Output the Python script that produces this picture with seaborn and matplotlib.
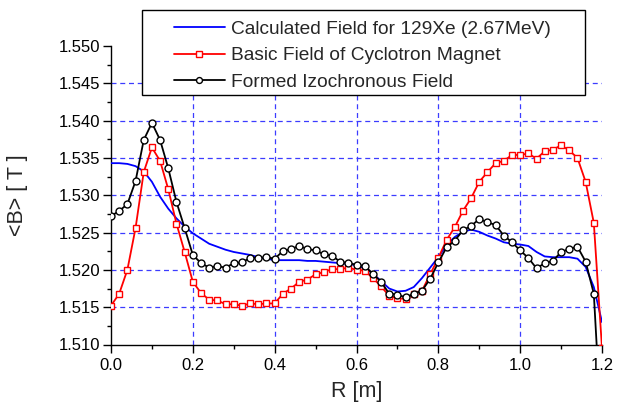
import numpy as np
import pandas as pd
import matplotlib
matplotlib.use("Agg")
import matplotlib.pyplot as plt
from matplotlib.patches import Rectangle
import seaborn as sns
from matplotlib.ticker import MultipleLocator, FormatStrFormatter

# Radius grid (m), 0.02 m step
radius = [round(0.02 * i, 2) for i in range(61)]

# Calculated isochronous field for 129Xe (2.67 MeV)
calculated = [
    1.5343, 1.5343, 1.5342, 1.5339, 1.5332, 1.5318, 1.5298, 1.5282, 1.5269, 1.5258,
    1.5249, 1.5242, 1.5235, 1.5231, 1.5227, 1.5224, 1.5222, 1.5220, 1.5217, 1.5215,
    1.5213, 1.5213, 1.5213, 1.5213, 1.5212, 1.5212, 1.5211, 1.5210, 1.5209, 1.5208,
    1.5206, 1.5202, 1.5195, 1.5185, 1.5175, 1.5171, 1.5172, 1.5177, 1.5189, 1.5203,
    1.5217, 1.5233, 1.5244, 1.5251, 1.5254, 1.5251, 1.5246, 1.5242, 1.5237, 1.5235,
    1.5234, 1.5232, 1.5224, 1.5218, 1.5217, 1.5217, 1.5217, 1.5215, 1.5204, 1.5177,
    1.5130,
]

# Basic field of the cyclotron magnet
basic = [
    1.5152, 1.5168, 1.5200, 1.5256, 1.5331, 1.5364, 1.5346, 1.5308, 1.5262, 1.5224,
    1.5184, 1.5169, 1.5160, 1.5159, 1.5154, 1.5154, 1.5152, 1.5155, 1.5154, 1.5155,
    1.5155, 1.5168, 1.5175, 1.5184, 1.5187, 1.5194, 1.5197, 1.5201, 1.5201, 1.5203,
    1.5200, 1.5199, 1.5189, 1.5178, 1.5165, 1.5162, 1.5161, 1.5168, 1.5172, 1.5194,
    1.5216, 1.5240, 1.5257, 1.5279, 1.5296, 1.5318, 1.5331, 1.5343, 1.5346, 1.5354,
    1.5354, 1.5356, 1.5349, 1.5359, 1.5361, 1.5367, 1.5360, 1.5350, 1.5318, 1.5263,
    1.5095,
]

# Formed isochronous field
formed = [
    1.5272, 1.5279, 1.5288, 1.5319, 1.5374, 1.5397, 1.5374, 1.5336, 1.5291, 1.5256,
    1.5220, 1.5209, 1.5203, 1.5205, 1.5203, 1.5209, 1.5210, 1.5216, 1.5216, 1.5217,
    1.5215, 1.5225, 1.5228, 1.5232, 1.5228, 1.5226, 1.5221, 1.5219, 1.5211, 1.5209,
    1.5207, 1.5205, 1.5195, 1.5184, 1.5168, 1.5167, 1.5163, 1.5168, 1.5172, 1.5188,
    1.5210, 1.5230, 1.5239, 1.5253, 1.5259, 1.5268, 1.5264, 1.5260, 1.5246, 1.5237,
    1.5226, 1.5216, 1.5202, 1.5209, 1.5212, 1.5224, 1.5228, 1.5231, 1.5211, 1.5168,
    1.4970,
]

series_labels = [
    "Calculated Field for 129Xe (2.67MeV)",
    "Basic Field of Cyclotron Magnet",
    "Formed Izochronous Field",
]

x_ticks = [0.0, 0.2, 0.4, 0.6, 0.8, 1.0, 1.2]
y_ticks = [1.510, 1.515, 1.520, 1.525, 1.530, 1.535, 1.540, 1.545, 1.550]

df = pd.DataFrame({"R": radius, "calc": calculated, "basic": basic, "formed": formed})

sns.set_style("white")
plt.rcParams["font.family"] = ["Liberation Sans", "DejaVu Sans"]

W, H = 617, 404
fig = plt.figure(figsize=(W / 100, H / 100), dpi=100)
ax = fig.add_axes([111 / W, (H - 344.5) / H, 491 / W, 298.5 / H])

# dashed blue grid at interior major ticks
grid_kw = dict(color="#3c3cff", linestyle=(0, (4, 3)), linewidth=0.9, zorder=0)
for xv in x_ticks[1:-1]:
    ax.axvline(xv, **grid_kw)
for yv in y_ticks[1:-1]:
    ax.axhline(yv, **grid_kw)

sns.lineplot(data=df, x="R", y="calc", ax=ax, color="#0000ff", linewidth=1.3,
             label=series_labels[0], zorder=3)
sns.lineplot(data=df, x="R", y="basic", ax=ax, color="#ff0000", linewidth=1.3,
             marker="s", markersize=4.3, markerfacecolor="white",
             markeredgecolor="#ff0000", markeredgewidth=1.0,
             label=series_labels[1], zorder=4)
sns.lineplot(data=df, x="R", y="formed", ax=ax, color="black", linewidth=1.3,
             marker="o", markersize=5.0, markerfacecolor="white",
             markeredgecolor="black", markeredgewidth=1.0,
             label=series_labels[2], zorder=5)

ax.set_xlim(0.0, 1.2)
ax.set_ylim(1.510, 1.550)
ax.set_xticks(x_ticks)
ax.set_yticks(y_ticks)
ax.xaxis.set_major_formatter(FormatStrFormatter("%.1f"))
ax.yaxis.set_major_formatter(FormatStrFormatter("%.3f"))
ax.xaxis.set_minor_locator(MultipleLocator(0.1))
ax.yaxis.set_minor_locator(MultipleLocator(0.0025))
ax.tick_params(axis="both", which="major", direction="out", length=5.5, width=1.0,
               labelsize=12, color="black", labelcolor="black")
ax.tick_params(axis="y", which="major", pad=2)
ax.tick_params(axis="x", which="major", pad=4)
ax.tick_params(axis="both", which="minor", direction="out", length=2.8, width=1.0,
               color="black")
ax.tick_params(bottom=True, left=True, which="both")

for side in ("top", "right"):
    ax.spines[side].set_visible(False)
for side in ("left", "bottom"):
    ax.spines[side].set_color("black")
    ax.spines[side].set_linewidth(1.0)

ax.set_xlabel("R [m]", fontsize=15.5)
ax.set_ylabel("<B> [ T ]", fontsize=15.5)
ax.xaxis.set_label_coords(0.5, (344.5 - 391.5) / 298.5)
ax.xaxis.label.set_verticalalignment("center")
ax.yaxis.set_label_coords((18 - 111) / 491, 0.5)
ax.yaxis.label.set_verticalalignment("center")

handles, labels = ax.get_legend_handles_labels()
ax.get_legend().remove()

# legend box
frame = Rectangle((142 / W, 1 - 95 / H), (585 - 142) / W, 85 / H,
                  transform=fig.transFigure, facecolor="white",
                  edgecolor="black", linewidth=1.0, zorder=4)
fig.patches.append(frame)

leg = fig.legend(handles, labels, loc="upper left",
                 bbox_to_anchor=(174 / W, 1 - 20.5 / H),
                 borderaxespad=0, borderpad=0, frameon=False,
                 fontsize=13.8, handlelength=2.65, handletextpad=0.3,
                 labelspacing=0.47, markerscale=0.85)
leg.set_zorder(5)

fig.savefig("out.png", dpi=100)
